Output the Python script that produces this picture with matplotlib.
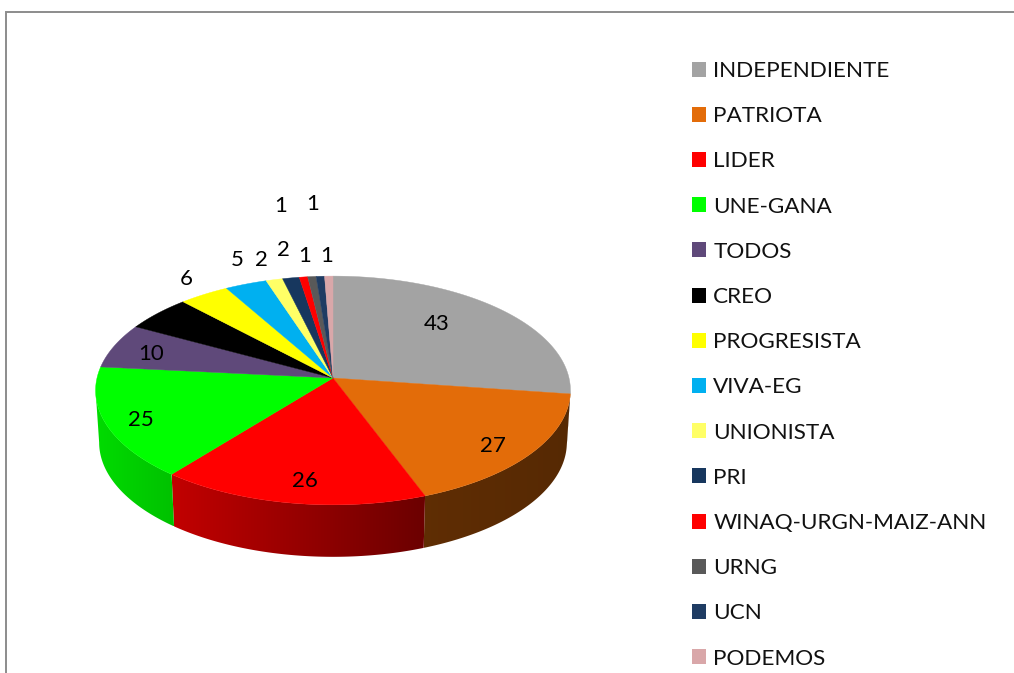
import numpy as np
import matplotlib
matplotlib.use('Agg')
import matplotlib.pyplot as plt
from matplotlib.colors import to_rgb
from matplotlib.patches import Patch, Polygon

parties = ['INDEPENDIENTE', 'PATRIOTA', 'LIDER', 'UNE-GANA', 'TODOS', 'CREO', 'PROGRESISTA',
           'VIVA-EG', 'UNIONISTA', 'PRI', 'WINAQ-URGN-MAIZ-ANN', 'URNG', 'UCN', 'PODEMOS']
seats = [43, 27, 26, 25, 10, 8, 6, 5, 2, 2, 1, 1, 1, 1]
colors = ['#A3A3A3', '#E36C09', '#FF0000', '#00FF00', '#5F497A', '#000000', '#FFFF00',
          '#00B0F0', '#FFFF66', '#17375E', '#FF0000', '#595959', '#1F3C63', '#D9A7A9']

# where the labels sit, in picture pixels
label_pos = [(437, 324), (493, 446), (305, 481), (141, 420), (151, 354), (165, 321), (186, 279),
             (237, 260), (261, 260), (283, 250), (305, 256), (281, 206), (313, 204), (327, 256)]

# pie geometry (pixels), k gives the perspective
cx, cy = 333, 378
rx, ry = 236, 113
k = 0.109
depth = 52


def rim(theta):
    u, v = np.cos(theta), np.sin(theta)
    d = 1 + k * v
    return cx + rx * u / d, cy - ry * v / d


def wall_shade(x):
    return np.interp(x, [96, 172, 425, 570], [0.86, 0.76, 0.42, 0.38])


plt.rcParams['font.family'] = ['Lato', 'DejaVu Sans']
fig = plt.figure(figsize=(10.14, 6.73), dpi=100)
ax = fig.add_axes([0, 0, 1, 1])

ax.plot([6, 6, 1014], [673, 12, 12], color='#8C8C8C', lw=1.4, solid_joinstyle='miter')

edges = np.cumsum([0] + seats) / sum(seats) * 2 * np.pi
starts = np.pi / 2 - edges[:-1]
ends = np.pi / 2 - edges[1:]

# the wall only shows between the two side extremes of the rim
vis_right = -np.arcsin(k)
vis_left = -np.pi + np.arcsin(k)

# side wall first, a fading image clipped to each slice's wall
for a, b, c in zip(starts, ends, colors):
    a, b = min(a, vis_right), max(b, vis_left)
    if a <= b:
        continue
    t = np.linspace(a, b, max(int((a - b) / np.radians(0.5)), 2))
    x, y = rim(t)
    x2 = cx + (x - cx) * 0.985
    y2 = y + depth
    outline = np.column_stack([np.r_[x, x2[::-1]], np.r_[y, y2[::-1]]])
    x0, x1 = outline[:, 0].min(), outline[:, 0].max()
    y0, y1 = outline[:, 1].min(), outline[:, 1].max()
    xs = np.linspace(x0, x1, max(int(x1 - x0), 2))
    grad = np.array(to_rgb(c))[None, None, :] * wall_shade(xs)[None, :, None]
    wall = Polygon(outline, closed=True, fc='none', ec='none', transform=ax.transData)
    ax.add_patch(wall)
    im = ax.imshow(grad, extent=[x0, x1, y1, y0], aspect='auto', zorder=2, interpolation='bilinear')
    im.set_clip_path(wall)

ax.set_xlim(0, 1014)
ax.set_ylim(673, 0)
ax.axis('off')

# top face
for a, b, c in zip(starts, ends, colors):
    t = np.linspace(a, b, max(int((a - b) / np.radians(0.5)), 2))
    x, y = rim(t)
    pts = np.column_stack([np.r_[cx, x], np.r_[cy, y]])
    ax.add_patch(Polygon(pts, closed=True, fc=c, ec=c, lw=0.3, zorder=3))

for n, (lx, ly) in zip(seats, label_pos):
    ax.text(lx, ly, str(n), fontsize=16, color='black', ha='center', va='center', zorder=5)

handles = [Patch(fc=c, ec='none') for c in colors]
ax.legend(handles, parties, loc='upper left', bbox_to_anchor=(692 / 1014, 1 - 61 / 673),
          frameon=False, fontsize=16.2, handlelength=0.64, handleheight=0.64, handletextpad=0.31,
          labelspacing=1.12, borderpad=0, borderaxespad=0, labelcolor='#111111')

fig.savefig('out.png', dpi=100)
